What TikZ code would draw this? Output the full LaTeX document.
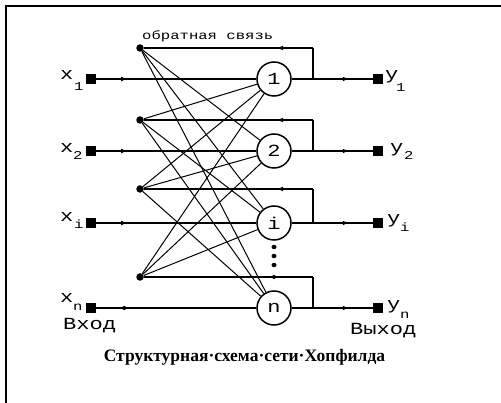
\documentclass[tikz,border=0pt]{standalone}
\usepackage{fontspec}
\setmainfont{Liberation Serif}
\newfontfamily\courw[FakeStretch=1.3]{Liberation Mono}
\usetikzlibrary{arrows.meta,decorations.markings}
\begin{document}
\begin{tikzpicture}[x=1pt,y=-1pt,
  thickline/.style={line width=1.7pt},
  thinline/.style={line width=1pt},
  vline/.style={line width=1.3pt},
  neuron/.style={circle,draw,line width=1.5pt,minimum size=34pt,inner sep=0pt,font=\courw\fontsize{17}{17}\selectfont},
  term/.style={fill,draw=none,minimum size=10pt,inner sep=0pt},
  fbdot/.style={circle,fill,minimum size=7.5pt,inner sep=0pt},
  arrowat/.style={postaction={decorate},decoration={markings,mark=at position #1 with {\arrow{Latex[length=6pt,width=5pt]}}}},
  dotat/.style={postaction={decorate},decoration={markings,mark=at position #1 with {\fill (0,0) circle (2pt);}}},
  lab/.style={anchor=base west,inner sep=0pt,font=\courw\fontsize{17}{17}\selectfont},
  sublab/.style={anchor=base west,inner sep=0pt,font=\courw\fontsize{12}{12}\selectfont},
  word/.style={anchor=base west,inner sep=0pt,font=\courw\fontsize{17}{17}\selectfont}
]
\useasboundingbox (0,0) rectangle (501,403);
\fill[white] (0,0) rectangle (501,403);
% frame
\draw[line width=1.5pt] (6,403) -- (6,6) -- (501,6);

% nodes per row
\foreach \r/\y/\f in {1/79/48, 2/151/120, i/223/189, n/308/277}{
  \node[term] (in\r) at (91,\y) {};
  \node[neuron] (c\r) at (274,\y) {\r};
  \node[term] (out\r) at (378,\y) {};
  \node[fbdot] (d\r) at (140,\f) {};
  \coordinate (j\r) at (313,\y);
  \coordinate (t\r) at (313,\f);
}

% input lines
\foreach \r in {1,2,i}{ \draw[thickline,arrowat=31pt] (in\r.east) -- (c\r.west); }
\draw[thickline,dotat=28pt] (inn.east) -- (cn.west);

% output lines
\foreach \r in {1,2,i,n}{ \draw[thickline,arrowat=57pt] (c\r.east) -- (out\r.west); }

% feedback loops
\foreach \r in {1,2,i,n}{ \draw[vline] (j\r) -- (t\r); }
\foreach \r in {1,2,i}{ \draw[thickline,arrowat=36pt] (t\r) -- (d\r); }
\draw[thickline] (tn) -- (dn);

% cross connections
\foreach \a/\b in {1/2,1/i,1/n,2/1,2/i,2/n,i/1,i/2,i/n,n/1,n/2,n/i}{
  \draw[thinline] (d\a) -- (c\b);
}

% vertical dots
\foreach \yy in {247,256,265}{ \fill (274,\yy) ellipse (2.5pt and 2.2pt); }
\fill (274,277) circle (2pt);

% labels
\node[anchor=base west,inner sep=0pt,font=\courw\fontsize{12}{12}\selectfont] (fbl) at (142,40) {обратная связь};

\node[lab] (lx1) at (60,80) {x};  \node[sublab] (lx1s) at (74,91) {1};
\node[lab] (lx2) at (60,153) {x}; \node[sublab] (lx2s) at (73,160) {2};
\node[lab] (lxi) at (60,222) {x}; \node[sublab] (lxis) at (74,229) {i};
\node[lab] (lxn) at (60,303) {x}; \node[sublab] (lxns) at (73,311) {n};

\node[lab] (ly1) at (385,80) {y};  \node[sublab] (ly1s) at (396,92) {1};
\node[lab] (ly2) at (390,153) {y}; \node[sublab] (ly2s) at (404,160) {2};
\node[lab] (lyi) at (387,224) {y}; \node[sublab] (lyis) at (400,232) {i};
\node[lab] (lyn) at (387,310) {y}; \node[sublab] (lyns) at (400,319) {n};

\node[word] (vin) at (63,330) {Вход};
\node[word] (vout) at (350,335) {Выход};

\node[anchor=base,inner sep=0pt,font=\bfseries\fontsize{17.5}{17.5}\selectfont] (title) at (244.5,362) {Структурная·схема·сети·Хопфилда};
\end{tikzpicture}
\end{document}
